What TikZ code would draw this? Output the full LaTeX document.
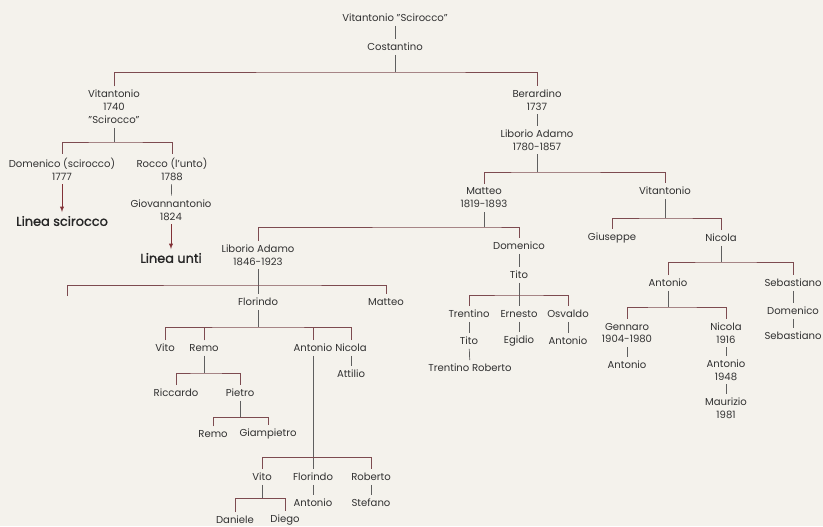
\documentclass[tikz,border=0pt]{standalone}
\usepackage{fontspec}
\setmainfont{Poppins}
\newfontfamily\lineafont{Poppins}[FakeBold=1.3]
\usetikzlibrary{arrows}

\definecolor{paper}{RGB}{244,242,236}
\definecolor{ink}{RGB}{50,50,50}
\definecolor{barred}{RGB}{125,75,80}
\definecolor{tickgray}{RGB}{95,95,95}
\definecolor{arrred}{RGB}{130,50,55}

\begin{document}
\begin{tikzpicture}[x=0.03cm,y=-0.03cm,
    every node/.style={inner xsep=1pt,inner ysep=3.2pt,align=center,text=ink,
      font=\fontsize{8.6}{11}\selectfont},
    linea/.style={font=\fontsize{11}{12}\selectfont\lineafont,text=black!85},
    tick/.style={tickgray,line width=0.6pt},
    bar/.style={barred,line width=0.6pt},
    arr/.style={arrred,line width=0.6pt,-latex}]
  \fill[paper] (0,0) rectangle (823,526);
  \useasboundingbox (0,0) rectangle (823,526);

  % people
  \node (vs) at (395,18) {Vitantonio "Scirocco"};
  \node (cost) at (395,47) {Costantino};
  \node (vit1) at (114,107) {Vitantonio\\1740\\"Scirocco"};
  \node (ber) at (537,100) {Berardino\\1737};
  \node (lib1) at (537,140) {Liborio Adamo\\1780-1857};
  \node (dom1) at (62,169) {Domenico (scirocco)\\1777};
  \node (roc) at (172,169) {Rocco (l'unto)\\1788};
  \node (gio) at (171,210) {Giovannantonio\\1824};
  \node[linea] (lsc) at (62,221) {Linea scirocco};
  \node[linea] (lun) at (171,258) {Linea unti};
  \node (mat1) at (484,198) {Matteo\\1819-1893};
  \node (vit2) at (665,191) {Vitantonio};
  \node (lib2) at (258,255) {Liborio Adamo\\1846-1923};
  \node (dom2) at (519,246) {Domenico};
  \node (tit1) at (519,275) {Tito};
  \node (gius) at (612,238) {Giuseppe};
  \node (nic1) at (721,238) {Nicola};
  \node (ant1) at (668,283) {Antonio};
  \node (seb1) at (793,283) {Sebastiano};
  \node (dom3) at (793,311) {Domenico};
  \node (seb2) at (793,336) {Sebastiano};
  \node (gen) at (627,333) {Gennaro\\1904-1980};
  \node (ant3) at (627,365) {Antonio};
  \node (nic3) at (726,333) {Nicola\\1916};
  \node (ant4) at (726,370) {Antonio\\1948};
  \node (mau) at (726,408) {Maurizio\\1981};
  \node (tre1) at (469,314) {Trentino};
  \node (ern) at (519,314) {Ernesto};
  \node (osv) at (568,314) {Osvaldo};
  \node (tit2) at (469,341) {Tito};
  \node (egi) at (519,341) {Egidio};
  \node (ant5) at (568,341) {Antonio};
  \node (tre2) at (470,368) {Trentino Roberto};
  \node (flo1) at (258,302) {Florindo};
  \node (mat2) at (386,302) {Matteo};
  \node (vito1) at (165,348) {Vito};
  \node (remo1) at (204,348) {Remo};
  \node (ant2) at (313,348) {Antonio};
  \node (nic2) at (351,348) {Nicola};
  \node (ric) at (176,393) {Riccardo};
  \node (pie) at (240,393) {Pietro};
  \node (att) at (351,374) {Attilio};
  \node (remo2) at (213,434) {Remo};
  \node (gia) at (268,434) {Giampietro};
  \node (vito2) at (262,477) {Vito};
  \node (flo2) at (313,477) {Florindo};
  \node (rob) at (371,477) {Roberto};
  \node (ant6) at (313,503) {Antonio};
  \node (ste) at (371,503) {Stefano};
  \node (dan) at (235,520) {Daniele};
  \node (die) at (285,520) {Diego};

  % junctions on the bars
  \coordinate (j1) at (395,72);
  \coordinate (j2) at (114,142);
  \coordinate (j3) at (537,172);
  \coordinate (j4) at (484,227);
  \coordinate (j5) at (665,218);
  \coordinate (j6) at (721,262);
  \coordinate (j7) at (668,307);
  \coordinate (j8) at (519,295);
  \coordinate (j9) at (258,285);
  \coordinate (e9) at (67,296);
  \coordinate (j10) at (258,327);
  \coordinate (j11) at (204,373);
  \coordinate (j12) at (240,417);
  \coordinate (j13) at (313,457);
  \coordinate (j14) at (262,498);

  % single lines
  \draw[tick] (vs) -- (cost);
  \draw[tick] (ber) -- (lib1);
  \draw[tick] (roc) -- (gio);
  \draw[tick] (dom2) -- (tit1);
  \draw[tick] (seb1) -- (dom3);
  \draw[tick] (dom3) -- (seb2);
  \draw[tick] (gen) -- (ant3);
  \draw[tick] (nic3) -- (ant4);
  \draw[tick] (ant4) -- (mau);
  \draw[tick] (tre1) -- (tit2);
  \draw[tick] (tit2) -- (tre2);
  \draw[tick] (ern) -- (egi);
  \draw[tick] (osv) -- (ant5);
  \draw[tick] (nic2) -- (att);
  \draw[tick] (flo2) -- (ant6);
  \draw[tick] (rob) -- (ste);
  \draw[arr] (dom1) -- (lsc);
  \draw[arr] (gio) -- (lun);

  % families
  \draw[tick] (cost) -- (j1);
  \draw[bar] (vit1.north) |- (j1) -| (ber.north);
  \draw[tick] (vit1) -- (j2);
  \draw[bar] (dom1.north) |- (j2) -| (roc.north);
  \draw[tick] (lib1) -- (j3);
  \draw[bar] (mat1.north) |- (j3) -| (vit2.north);
  \draw[tick] (mat1) -- (j4);
  \draw[bar] (lib2.north) |- (j4) -| (dom2.north);
  \draw[tick] (vit2) -- (j5);
  \draw[bar] (gius.north) |- (j5) -| (nic1.north);
  \draw[tick] (nic1) -- (j6);
  \draw[bar] (ant1.north) |- (j6) -| (seb1.north);
  \draw[tick] (ant1) -- (j7);
  \draw[bar] (gen.north) |- (j7) -| (nic3.north);
  \draw[tick] (tit1) -- (ern);
  \draw[bar] (tre1.north) |- (j8) -| (osv.north);
  \draw[tick] (lib2) -- (flo1);
  \draw[bar] (e9) |- (j9) -| (mat2.north);
  \draw[tick] (flo1) -- (j10);
  \draw[bar] (vito1.north) |- (j10) -| (nic2.north);
  \draw[bar] (remo1.north) -- (remo1.north |- j10);
  \draw[bar] (ant2.north) -- (ant2.north |- j10);
  \draw[tick] (remo1) -- (j11);
  \draw[bar] (ric.north) |- (j11) -| (pie.north);
  \draw[tick] (pie) -- (j12);
  \draw[bar] (remo2.north) |- (j12) -| (gia.north);
  \draw[tick] (ant2) -- (flo2);
  \draw[bar] (vito2.north) |- (j13) -| (rob.north);
  \draw[tick] (vito2) -- (j14);
  \draw[bar] (dan.north) |- (j14) -| (die.north);
\end{tikzpicture}
\end{document}
